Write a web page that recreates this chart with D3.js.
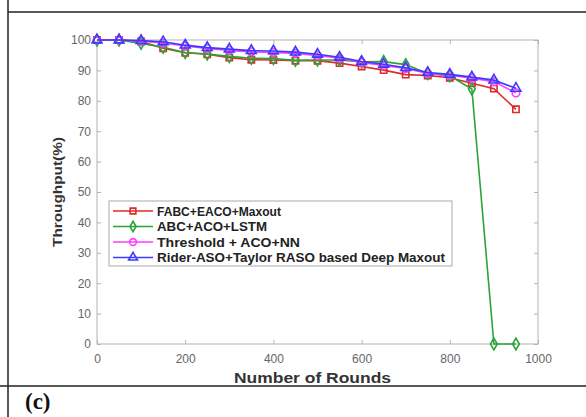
<!DOCTYPE html>
<html>
<head>
<meta charset="utf-8">
<script src="https://cdn.jsdelivr.net/npm/d3@7"></script>
<style>
  body { margin: 0; background: #fff; }
  text { font-family: "Liberation Sans", Arial, sans-serif; }
</style>
</head>
<body>
<script>
// Data
var rounds = [0, 50, 100, 150, 200, 250, 300, 350, 400, 450, 500, 550, 600, 650, 700, 750, 800, 850, 900, 950];
var fabc = [100, 100, 99.5, 97.3, 95.8, 95.3, 94.2, 93.5, 93.4, 93.2, 93.2, 92.4, 91.3, 90.1, 88.6, 88.3, 87.6, 85.8, 84, 77.2];
var abc = [100, 100, 98.9, 97.6, 95.9, 95.4, 94.6, 94, 93.9, 93.3, 93.4, 93.4, 92.8, 92.9, 91.9, 89, 88.2, 83.9, 0, 0];
var threshold = [100, 100, 99.6, 99, 98, 97.2, 96.6, 96.1, 95.9, 95.6, 94.9, 94, 92.6, 91.6, 90.6, 89, 88.4, 87.4, 86.3, 82.6];
var rider = [100, 100, 99.8, 99.4, 98.3, 97.5, 97, 96.5, 96.4, 96, 95.3, 94.3, 92.9, 92, 90.9, 89.3, 88.7, 87.8, 86.8, 84.1];
var seriesNames = ["FABC+EACO+Maxout", "ABC+ACO+LSTM", "Threshold + ACO+NN", "Rider-ASO+Taylor RASO based Deep Maxout"];
var xTicks = [0, 200, 400, 600, 800, 1000];
var yTicks = [0, 10, 20, 30, 40, 50, 60, 70, 80, 90, 100];

var W = 586, H = 417;
var margin = { top: 40, right: 48, bottom: 73, left: 97 },
  width = W - margin.left - margin.right,
  height = H - margin.top - margin.bottom;

var svg = d3.select("body").append("svg").attr("width", W).attr("height", H);

// outer frame of the figure cell
svg.append("line").attr("x1", 8).attr("x2", 8).attr("y1", 0).attr("y2", H)
  .attr("stroke", "#222").attr("stroke-width", 1.5);
svg.append("line").attr("x1", 8).attr("x2", W).attr("y1", 12).attr("y2", 12)
  .attr("stroke", "#222").attr("stroke-width", 1.5);
svg.append("line").attr("x1", 0).attr("x2", W).attr("y1", 386).attr("y2", 386)
  .attr("stroke", "#222").attr("stroke-width", 1.5);
svg.append("text").attr("x", 25).attr("y", 409)
  .style("font-family", "'Liberation Serif', 'Times New Roman', serif")
  .style("font-weight", "bold").style("font-size", "23px").attr("fill", "#111")
  .text("(c)");

var g = svg.append("g").attr("transform", "translate(" + margin.left + "," + margin.top + ")");

var x = d3.scaleLinear().domain([0, 1000]).range([0, width]);
var y = d3.scaleLinear().domain([0, 100]).range([height, 0]);

var axisColor = "#b3b3b3", labelColor = "#666";

// box with ticks on all four sides
g.append("rect").attr("width", width).attr("height", height)
  .attr("fill", "none").attr("stroke", axisColor).attr("stroke-width", 1);

function styleAxis(sel, showLabels) {
  sel.select(".domain").remove();
  sel.selectAll(".tick line").attr("stroke", axisColor);
  sel.selectAll(".tick text").attr("fill", labelColor).style("font-size", "12px");
  if (!showLabels) sel.selectAll(".tick text").remove();
}

g.append("g").attr("transform", "translate(0," + height + ")")
  .call(d3.axisBottom(x).tickValues(xTicks).tickSize(-4).tickPadding(10).tickFormat(d3.format("d")))
  .call(styleAxis, true);
g.append("g")
  .call(d3.axisTop(x).tickValues(xTicks).tickSize(-4))
  .call(styleAxis, false);
g.append("g")
  .call(d3.axisLeft(y).tickValues(yTicks).tickSize(-4).tickPadding(6))
  .call(styleAxis, true);
g.append("g").attr("transform", "translate(" + width + ",0)")
  .call(d3.axisRight(y).tickValues(yTicks).tickSize(-4))
  .call(styleAxis, false);

// axis titles
g.append("text").attr("x", width / 2 - 5).attr("y", height + 39)
  .attr("text-anchor", "middle").style("font-weight", "bold").style("font-size", "14px")
  .attr("fill", "#333").attr("textLength", 157).attr("lengthAdjust", "spacingAndGlyphs")
  .text("Number of Rounds");
g.append("text").attr("transform", "translate(-35,152) rotate(-90)")
  .attr("text-anchor", "middle").style("font-weight", "bold").style("font-size", "13px")
  .attr("fill", "#333").attr("textLength", 110).attr("lengthAdjust", "spacingAndGlyphs")
  .text("Throughput(%)");

var colors = ["#dd2a2a", "#2ca33a", "#ff3cff", "#3b3bff"];
var allSeries = [fabc, abc, threshold, rider];
var shapes = [d3.symbolSquare, d3.symbolDiamond, d3.symbolCircle, d3.symbolTriangle];
var sizes = [40, 40, 45, 42];

var line = d3.line().x(function (d, i) { return x(rounds[i]); }).y(function (d) { return y(d); });

allSeries.forEach(function (s, k) {
  g.append("path").attr("d", line(s)).attr("fill", "none")
    .attr("stroke", colors[k]).attr("stroke-width", 1.6);
  g.selectAll(".m" + k).data(s).enter().append("path")
    .attr("transform", function (d, i) { return "translate(" + x(rounds[i]) + "," + y(d) + ")"; })
    .attr("d", d3.symbol().type(shapes[k]).size(sizes[k]))
    .attr("fill", "none").attr("stroke", colors[k]).attr("stroke-width", 1.6);
});

// legend
var lg = svg.append("g").attr("transform", "translate(109,201)");
lg.append("rect").attr("width", 343).attr("height", 65)
  .attr("fill", "#fff").attr("stroke", "#aaa").attr("stroke-width", 1);
var legendWidths = [124, 110, 143, 288]; // text widths
seriesNames.forEach(function (name, k) {
  var yy = 10 + k * 15.5;
  lg.append("line").attr("x1", 4).attr("x2", 44).attr("y1", yy).attr("y2", yy)
    .attr("stroke", colors[k]).attr("stroke-width", 1.6);
  lg.append("path").attr("transform", "translate(24," + yy + ")")
    .attr("d", d3.symbol().type(shapes[k]).size(sizes[k] * 0.8))
    .attr("fill", "none").attr("stroke", colors[k]).attr("stroke-width", 1.6);
  lg.append("text").attr("x", 48).attr("y", yy + 4.5)
    .style("font-weight", "bold").style("font-size", "12px").attr("fill", "#222")
    .attr("textLength", legendWidths[k]).attr("lengthAdjust", "spacingAndGlyphs")
    .text(name);
});
</script>
</body>
</html>
